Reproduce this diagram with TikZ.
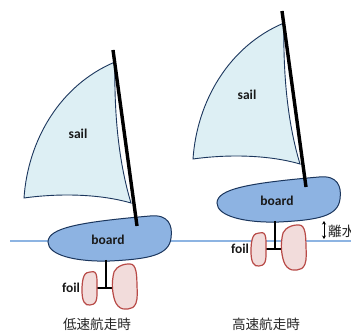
\documentclass[tikz,border=0pt]{standalone}
\usepackage{fontspec}
\setmainfont{Carlito}
\newfontfamily\jpfont{Noto Sans CJK JP}
\usetikzlibrary{arrows.meta}

\definecolor{sailfill}{HTML}{DDEFF4}
\definecolor{navy}{HTML}{1B365D}
\definecolor{boardfill}{HTML}{8DB3E2}
\definecolor{waterblue}{HTML}{8DB4E2}
\definecolor{foilfill}{HTML}{F2DCDB}
\definecolor{foilline}{HTML}{B84A47}

\tikzset{
  sailshape/.style={fill=sailfill, draw=navy, line width=0.9pt},
  boardshape/.style={fill=boardfill, draw=navy, line width=1pt},
  foilshape/.style={fill=foilfill, draw=foilline, line width=1.2pt},
  mastline/.style={draw=black, line width=3.4pt},
  strutline/.style={draw=black, line width=2.8pt},
  waterline/.style={draw=waterblue, line width=2.6pt},
  lbl/.style={font=\fontsize{13.5}{15}\selectfont\bfseries, text=black!90, inner sep=0pt},
  jp/.style={font=\jpfont\fontsize{13.6}{15}\selectfont, text=black!85, inner sep=0pt},
  liftarrow/.style={draw=black, line width=0.9pt, {Stealth[length=3.5pt,width=4pt]}-{Stealth[length=3.5pt,width=4pt]}},
  boat/.pic={
    % sail
    \draw[sailshape] (115,62) .. controls (60,85) and (28,140) .. (24,198)
      .. controls (60,193) and (100,194) .. (131,203)
      .. controls (118,160) and (114,110) .. (115,62) -- cycle;
    % board
    \draw[boardshape] (48,242) .. controls (48,228) and (80,222) .. (150,216)
      .. controls (168,214) and (173,225) .. (171,238)
      .. controls (169,255) and (150,259) .. (110,261)
      .. controls (75,262) and (48,255) .. (48,242) -- cycle;
    % mast
    \coordinate (masttop) at (113,50);
    \coordinate (mastfoot) at (137,226);
    \draw[mastline] (masttop) -- (mastfoot);
    % foil strut
    \coordinate (strutTop) at (106,260);
    \coordinate (strutFoot) at (106,288);
    \coordinate (barL) at (96,288);
    \coordinate (barR) at (114,288);
    \draw[strutline] (strutTop) -- (strutFoot);
    \draw[strutline] (barL) -- (barR);
    % foils
    \draw[foilshape] plot[smooth cycle, tension=0.7] coordinates
      {(84,276) (90,272) (96,274) (97,288) (96,301) (90,305) (84,302) (82,290)};
    \draw[foilshape] plot[smooth cycle, tension=0.7] coordinates
      {(117,268) (128,264) (135,268) (137,285) (136,303) (128,309) (118,306) (113,293) (113,277)};
    % labels
    \node[lbl] (saillabel) at (78,134) {sail};
    \node[lbl] (boardlabel) at (108,240) {board};
    \node[lbl] (foillabel) at (71,288) {foil};
  }
}

\begin{document}
\begin{tikzpicture}[x=1pt, y=-1pt]
  \useasboundingbox (0,0) rectangle (351,331);
  \clip (0,0) rectangle (351,331);
  \fill[white] (0,0) rectangle (351,331);

  % water surface
  \coordinate (waterL) at (10,241);
  \coordinate (waterR) at (352,241);
  \draw[waterline] (waterL) -- (waterR);

  % slow (left) and foiling (right) boats
  \pic (slow) at (0,0) {boat};
  \pic (fast) at (169,-39) {boat};

  % lift-off height
  \coordinate (liftTop) at (324,221);
  \coordinate (liftBot) at (324,239);
  \draw[liftarrow] (liftTop) -- (liftBot);
  \node[jp, anchor=west] (lift) at (328,231) {離水};

  % captions
  \node[jp] (slowcap) at (97,324) {低速航走時};
  \node[jp] (fastcap) at (266,324) {高速航走時};
\end{tikzpicture}
\end{document}
